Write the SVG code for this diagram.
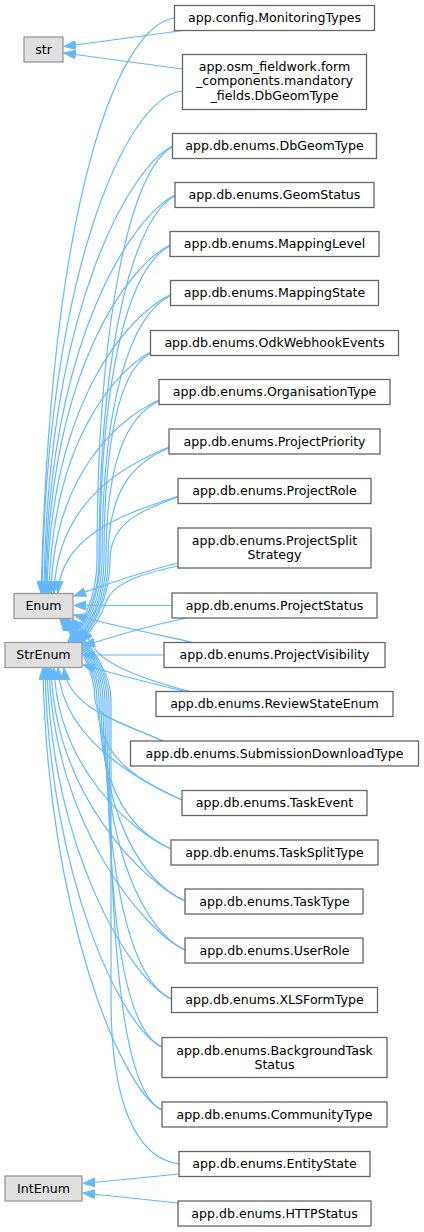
<svg xmlns="http://www.w3.org/2000/svg" width="424" height="1232" viewBox="0 0 424 1232">
<style>
.e{fill:none;stroke:#63b8ff;stroke-width:1.2;marker-end:url(#ah)}
.n rect{fill:#fff;stroke:#666;stroke-width:1.3}
.b rect{fill:#e0e0e0;stroke:#999;stroke-width:1.3}
text{font-family:"DejaVu Sans","Noto Sans",sans-serif;font-size:12.6px;fill:#000;text-anchor:middle}
</style>
<defs>
<marker id="ah" markerUnits="userSpaceOnUse" markerWidth="13" markerHeight="9" refX="12" refY="4.5" orient="auto">
<path d="M0,0 L12,4.5 L0,9 z" fill="#63b8ff" stroke="#63b8ff" stroke-width="1"/>
</marker>
</defs>
<rect width="424" height="1232" fill="#fff"/>
<g id="edges">
<path class="e" d="M183,30.5 L64,46.5"/>
<path class="e" d="M182.5,69 L64,53"/>
<path class="e" d="M174.5,18 C125,24 52,170 41,593"/>
<path class="e" d="M182.5,91 C125,96 46,280 42,593"/>
<path class="e" d="M172.5,146 C132.5,166 47,301 44,593"/>
<path class="e" d="M172.5,147 C132.5,167 97,312 97,560 C97,600 80,628 68,642"/>
<path class="e" d="M175,195 C135,215 48,333 45,593"/>
<path class="e" d="M175,196 C135,216 99,342 99,560 C99,600 82,628 70,642"/>
<path class="e" d="M170,245 C130,265 49,365 46,593"/>
<path class="e" d="M170,246 C130,266 100,371 100,560 C100,600 84,628 72,642"/>
<path class="e" d="M170.5,294.5 C130.5,314.5 50,397 47,593"/>
<path class="e" d="M170.5,295.5 C130.5,315.5 102,401 102,560 C102,600 86,628 74,642"/>
<path class="e" d="M151,352 C120,368 52,435 49,593"/>
<path class="e" d="M151,353 C120,369 104,436 104,560 C104,600 88,628 76,642"/>
<path class="e" d="M159,400 C125,416 54,467 51,593"/>
<path class="e" d="M159,401 C125,417 106,465 106,560 C106,600 89,628 77,642"/>
<path class="e" d="M169,447 C130,463 57,498 54,593"/>
<path class="e" d="M169,448 C130,464 108,493 108,560 C108,600 91,628 79,642"/>
<path class="e" d="M178,496 C140,510 61,529 58,593"/>
<path class="e" d="M178,497 C140,511 110,523 110,560 C110,600 92,628 80,642"/>
<path class="e" d="M178,563 C140,572 105,585 74,596"/>
<path class="e" d="M178,566 C135,575 112,585 106,602 C101,617 92,630 81,642"/>
<path class="e" d="M172,605.5 L74,605.5"/>
<path class="e" d="M187,618 C150,625 115,636 83,646"/>
<path class="e" d="M193,642.5 C160,635 110,625 74,615"/>
<path class="e" d="M164,655 L83,655"/>
<path class="e" d="M185,691.5 C150,683 115,674 83,665"/>
<path class="e" d="M190,691.5 C130,676 100,660 92,645 C87,635 80,627 72,619"/>
<path class="e" d="M163,741 C123,723 68,709 64,668"/>
<path class="e" d="M163,741 C123,723 95,717 95,700 C95,665 72,635 60,619"/>
<path class="e" d="M182,800 C142,782 62,741 58,668"/>
<path class="e" d="M182,800 C142,782 97,760 97,700 C97,665 73,635 61,619"/>
<path class="e" d="M171,849 C131,831 58,768 54,668"/>
<path class="e" d="M171,849 C131,831 99,789 99,700 C99,665 74,635 62,619"/>
<path class="e" d="M185,901 C145,883 55,797 51,668"/>
<path class="e" d="M185,901 C145,883 101,821 101,700 C101,665 75,635 63,619"/>
<path class="e" d="M185,950 C145,932 53,824 49,668"/>
<path class="e" d="M185,950 C145,932 103,850 103,700 C103,665 76,635 64,619"/>
<path class="e" d="M171.5,999 C131.5,981 51,851 47,668"/>
<path class="e" d="M171.5,999 C131.5,981 105,879 105,700 C105,665 77,635 65,619"/>
<path class="e" d="M162,1047 C122,1029 49,877 45,668"/>
<path class="e" d="M162,1047 C122,1029 107,908 107,700 C107,665 78,635 66,619"/>
<path class="e" d="M162,1110 C122,1092 47,912 43,668"/>
<path class="e" d="M162,1110 C122,1092 109,946 109,700 C109,665 79,635 67,619"/>
<path class="e" d="M179,1164 C135,1158 111,1100 111,1000 L111,700 C111,665 80,635 68,619"/>
<path class="e" d="M179,1174 L83,1183.5"/>
<path class="e" d="M178,1203 L83,1193"/>
</g>
<g id="str" class="b"><rect x="24" y="37" width="39" height="25"/><text x="43.5" y="53.5">str</text></g>
<g id="Enum" class="b"><rect x="14" y="593.5" width="59" height="25"/><text x="43.5" y="610">Enum</text></g>
<g id="StrEnum" class="b"><rect x="5" y="642.5" width="77" height="25"/><text x="43.5" y="659">StrEnum</text></g>
<g id="IntEnum" class="b"><rect x="5" y="1176" width="77" height="25"/><text x="43.5" y="1192.5">IntEnum</text></g>
<g id="MonitoringTypes" class="n"><rect x="174.5" y="5.5" width="200" height="25"/><text x="274.5" y="22">app.config.MonitoringTypes</text></g>
<g id="osmDbGeomType" class="n"><rect x="182.5" y="54.5" width="184" height="55"/><text x="274.5" y="71">app.osm_fieldwork.form</text><text x="274.5" y="85.3">_components.mandatory</text><text x="274.5" y="99.6">_fields.DbGeomType</text></g>
<g id="DbGeomType" class="n"><rect x="172.5" y="133.5" width="204" height="25"/><text x="274.5" y="150">app.db.enums.DbGeomType</text></g>
<g id="GeomStatus" class="n"><rect x="175" y="182.5" width="199" height="25"/><text x="274.5" y="199">app.db.enums.GeomStatus</text></g>
<g id="MappingLevel" class="n"><rect x="170" y="231.5" width="209" height="25"/><text x="274.5" y="248">app.db.enums.MappingLevel</text></g>
<g id="MappingState" class="n"><rect x="170.5" y="280.5" width="208" height="25"/><text x="274.5" y="297">app.db.enums.MappingState</text></g>
<g id="OdkWebhookEvents" class="n"><rect x="150.5" y="330.5" width="248" height="25"/><text x="274.5" y="347">app.db.enums.OdkWebhookEvents</text></g>
<g id="OrganisationType" class="n"><rect x="159" y="379.5" width="231" height="25"/><text x="274.5" y="396">app.db.enums.OrganisationType</text></g>
<g id="ProjectPriority" class="n"><rect x="169" y="429" width="211" height="25"/><text x="274.5" y="445.5">app.db.enums.ProjectPriority</text></g>
<g id="ProjectRole" class="n"><rect x="178" y="478.5" width="193" height="25"/><text x="274.5" y="495">app.db.enums.ProjectRole</text></g>
<g id="ProjectSplitStrategy" class="n"><rect x="178" y="528" width="193" height="40"/><text x="274.5" y="545">app.db.enums.ProjectSplit</text><text x="274.5" y="559.3">Strategy</text></g>
<g id="ProjectStatus" class="n"><rect x="172" y="593" width="205" height="25"/><text x="274.5" y="609.5">app.db.enums.ProjectStatus</text></g>
<g id="ProjectVisibility" class="n"><rect x="164" y="642.5" width="221" height="25"/><text x="274.5" y="659">app.db.enums.ProjectVisibility</text></g>
<g id="ReviewStateEnum" class="n"><rect x="156" y="691.5" width="237" height="25"/><text x="274.5" y="708">app.db.enums.ReviewStateEnum</text></g>
<g id="SubmissionDownloadType" class="n"><rect x="130.5" y="741" width="288" height="25"/><text x="274.5" y="757.5">app.db.enums.SubmissionDownloadType</text></g>
<g id="TaskEvent" class="n"><rect x="182" y="790.5" width="185" height="25"/><text x="274.5" y="807">app.db.enums.TaskEvent</text></g>
<g id="TaskSplitType" class="n"><rect x="171" y="840" width="207" height="25"/><text x="274.5" y="856.5">app.db.enums.TaskSplitType</text></g>
<g id="TaskType" class="n"><rect x="185" y="889" width="178" height="25"/><text x="274.5" y="905.5">app.db.enums.TaskType</text></g>
<g id="UserRole" class="n"><rect x="185" y="938" width="178" height="25"/><text x="274.5" y="954.5">app.db.enums.UserRole</text></g>
<g id="XLSFormType" class="n"><rect x="171.5" y="987.5" width="206" height="25"/><text x="274.5" y="1004">app.db.enums.XLSFormType</text></g>
<g id="BackgroundTaskStatus" class="n"><rect x="162" y="1037.5" width="225" height="40"/><text x="274.5" y="1054.5">app.db.enums.BackgroundTask</text><text x="274.5" y="1068.8">Status</text></g>
<g id="CommunityType" class="n"><rect x="162" y="1102" width="225" height="25"/><text x="274.5" y="1118.5">app.db.enums.CommunityType</text></g>
<g id="EntityState" class="n"><rect x="179" y="1151.5" width="191" height="25"/><text x="274.5" y="1168">app.db.enums.EntityState</text></g>
<g id="HTTPStatus" class="n"><rect x="178" y="1201" width="193" height="25"/><text x="274.5" y="1217.5">app.db.enums.HTTPStatus</text></g>
</svg>
